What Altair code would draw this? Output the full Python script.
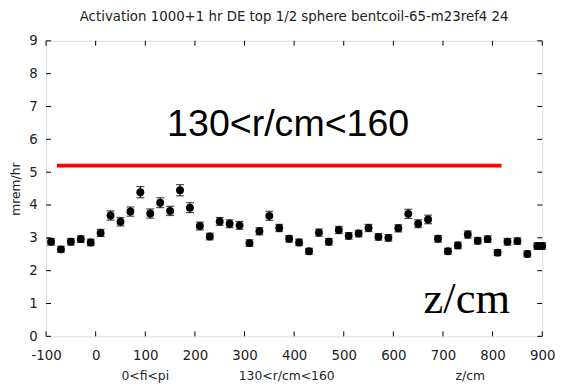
import altair as alt
import pandas as pd

# ---- data ----
z_cm = [-90, -70, -50, -30, -10, 10, 30, 50, 70, 90,
        110, 130, 150, 170, 190, 210, 230, 250, 270, 290,
        310, 330, 350, 370, 390, 410, 430, 450, 470, 490,
        510, 530, 550, 570, 590, 610, 630, 650, 670, 690,
        710, 730, 750, 770, 790, 810, 830, 850, 870, 890, 900]
dose = [2.88, 2.65, 2.88, 2.96, 2.86, 3.15, 3.68, 3.49, 3.80, 4.39,
        3.74, 4.07, 3.82, 4.45, 3.92, 3.36, 3.04, 3.50, 3.43, 3.38,
        2.84, 3.20, 3.67, 3.30, 2.97, 2.86, 2.59, 3.16, 2.88, 3.24,
        3.06, 3.13, 3.30, 3.03, 3.00, 3.29, 3.73, 3.43, 3.56, 2.97,
        2.59, 2.77, 3.10, 2.91, 2.96, 2.55, 2.88, 2.90, 2.51, 2.75, 2.75]
err = [0.10, 0.09, 0.10, 0.10, 0.10, 0.11, 0.14, 0.13, 0.14, 0.17,
       0.14, 0.15, 0.14, 0.17, 0.15, 0.12, 0.10, 0.12, 0.12, 0.12,
       0.10, 0.11, 0.14, 0.11, 0.10, 0.10, 0.09, 0.11, 0.10, 0.11,
       0.10, 0.10, 0.11, 0.10, 0.10, 0.11, 0.14, 0.12, 0.13, 0.10,
       0.09, 0.10, 0.11, 0.10, 0.10, 0.09, 0.10, 0.10, 0.09, 0.10, 0.10]

limit_x = [-78]
limit_x2 = [818]
limit_y = [5.2]

x_ticks = [-100, 0, 100, 200, 300, 400, 500, 600, 700, 800, 900]
y_ticks = [0, 1, 2, 3, 4, 5, 6, 7, 8, 9]

title_text = "Activation 1000+1 hr DE top 1/2 sphere bentcoil-65-m23ref4 24"
y_title = "mrem/hr"
bottom_labels = ["0<fi<pi", "130<r/cm<160", "z/cm"]
bottom_label_x = [100, 385, 755]
big_label = ["130<r/cm<160"]
big_label_x = [388]
big_label_y = [6.42]
serif_label = ["z/cm"]
serif_label_x = [748]
serif_label_y = [1.12]

W, H = 502, 299
font = "DejaVu Sans"

df = pd.DataFrame({"z": z_cm, "d": dose, "lo": [a - b for a, b in zip(dose, err)],
                   "hi": [a + b for a, b in zip(dose, err)]})
xs = alt.Scale(domain=[-100, 900], nice=False, zero=False)
ys = alt.Scale(domain=[0, 9], nice=False, zero=False)

common = dict(grid=False, ticks=False, domain=False, labelFontSize=13.5, labelFont=font,
              labelColor="#222", labelFlush=False, labelOverlap=False, labelBound=False,
              labelExpr="'' + datum.value")
XA = alt.Axis(values=x_ticks, labelPadding=12, title=None, **common)
YA = alt.Axis(values=y_ticks, labelPadding=9, title=y_title, titlePadding=6, titleFont=font,
              titleFontSize=12.5, titleFontWeight="normal", titleColor="#222", **common)


def X(f):
    return alt.X(f, type="quantitative", scale=xs, axis=XA)


def Y(f):
    return alt.Y(f, type="quantitative", scale=ys, axis=YA)


points = alt.Chart(df).mark_point(filled=True, shape="circle", size=64, color="black", opacity=1).encode(
    x=X("z"), y=Y("d"))
bars = alt.Chart(df).mark_rule(color="black", strokeWidth=1.2).encode(
    x=X("z"), y=Y("lo"), y2="hi:Q")
caps_hi = alt.Chart(df).mark_tick(color="black", thickness=1.2, size=8, orient="horizontal").encode(
    x=X("z"), y=Y("hi"))
caps_lo = alt.Chart(df).mark_tick(color="black", thickness=1.2, size=8, orient="horizontal").encode(
    x=X("z"), y=Y("lo"))

red = alt.Chart(pd.DataFrame({"x": limit_x, "x2": limit_x2, "y": limit_y})).mark_rule(
    color="#ff0000", strokeWidth=4).encode(x=X("x"), x2="x2:Q", y=Y("y"))

xt = pd.DataFrame({"x": x_ticks})
yt = pd.DataFrame({"y": y_ticks})
tick_b = alt.Chart(xt).mark_rule(color="black").encode(x=X("x"), y=alt.value(H), y2=alt.value(H - 5))
tick_t = alt.Chart(xt).mark_rule(color="black").encode(x=X("x"), y=alt.value(0), y2=alt.value(5))
tick_l = alt.Chart(yt).mark_rule(color="black").encode(y=Y("y"), x=alt.value(0), x2=alt.value(5))
tick_r = alt.Chart(yt).mark_rule(color="black").encode(y=Y("y"), x=alt.value(W), x2=alt.value(W - 5))

big = alt.Chart(pd.DataFrame({"t": big_label, "x": big_label_x, "y": big_label_y})).mark_text(
    font="Liberation Sans", fontSize=38, color="black", align="center", baseline="middle").encode(
    x=X("x"), y=Y("y"), text="t:N")
serif = alt.Chart(pd.DataFrame({"t": serif_label, "x": serif_label_x, "y": serif_label_y})).mark_text(
    font="Liberation Serif", fontSize=45, color="black", align="center", baseline="middle").encode(
    x=X("x"), y=Y("y"), text="t:N")
bottom = alt.Chart(pd.DataFrame({"t": bottom_labels, "x": bottom_label_x})).mark_text(
    font=font, fontSize=12.5, color="#222", align="center", baseline="middle").encode(
    x=X("x"), y=alt.value(H + 40), text="t:N")

chart = alt.layer(
    points, red, bars, caps_hi, caps_lo, tick_b, tick_t, tick_l, tick_r, big, serif, bottom
).properties(
    width=W, height=H,
    title=alt.TitleParams(title_text, font=font, fontSize=13.5, fontWeight="normal", color="#222",
                          anchor="middle", offset=11),
    autosize=alt.AutoSizeParams(type="none"),
    padding={"left": 38.5, "top": 31, "right": 18, "bottom": 46},
).configure_view(stroke="black", strokeWidth=1).configure(background="white")

chart.save("out.html", embed_options={"renderer": "svg", "actions": False})
